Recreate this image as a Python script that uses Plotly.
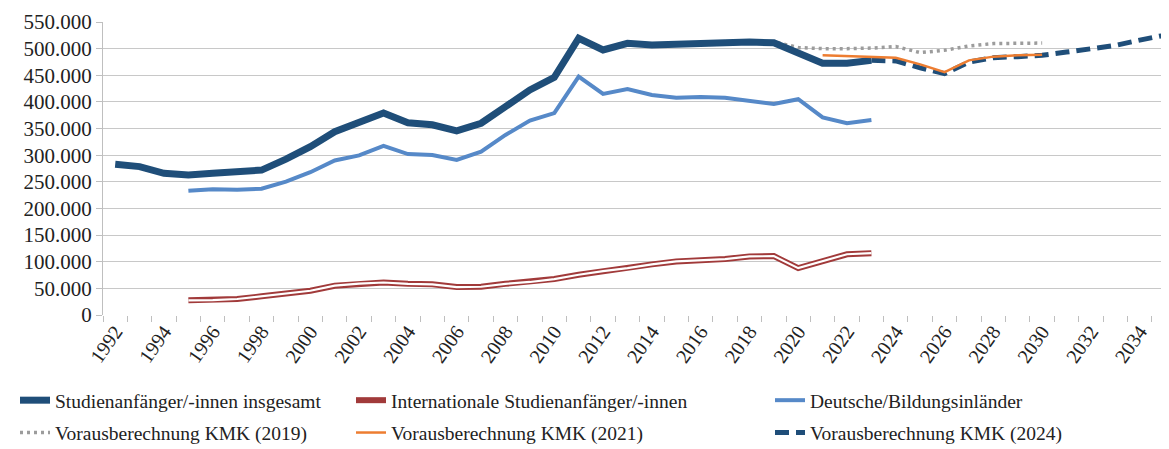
import plotly.graph_objects as go

years_total = list(range(1992, 2024))
total = [283000, 278500, 266000, 263000, 266000, 268000, 272000, 292500, 316000, 344000,
         360000, 379000, 361000, 357000, 345500, 360000, 391000, 422500, 446000, 519500,
         497500, 510000, 507000, 508000, 511000, 513000, 512500, 511000, 492500, 472500,
         472500, 478000]

years_sub = list(range(1995, 2024))
deutsche = [233000, 236000, 235000, 237000, 250500, 268000, 290000, 299500, 317500, 302000,
            300500, 291000, 306500, 338000, 365000, 379000, 447500, 415000, 424000, 413000,
            408000, 409000, 408000, 402500, 396000, 405000, 371000, 360000, 366000]
international = [27500, 28000, 30000, 35000, 40000, 45500, 55000, 59000, 61000, 58500,
                 57500, 52500, 53000, 58500, 62000, 67500, 75500, 82500, 88000, 95000,
                 100500, 102500, 105000, 110000, 110500, 88000, 100500, 114000, 116000]

years_kmk2019 = list(range(2018, 2031))
kmk2019 = [512500, 513000, 502000, 500000, 500000, 501000, 504000, 492500, 497000, 505000,
           509500, 510000, 510500]

years_kmk2021 = list(range(2021, 2031))
kmk2021 = [487500, 486000, 484000, 483000, 470500, 456000, 478000, 485000, 487500, 488500]

years_kmk2024 = list(range(2023, 2036))
kmk2024 = [478000, 477000, 464000, 453000, 475000, 483000, 485000, 487500, 493500, 500000,
           506000, 516000, 525000]

tick_years = list(range(1992, 2036, 2))

names = ["Studienanfänger/-innen insgesamt", "Internationale Studienanfänger/-innen",
         "Deutsche/Bildungsinländer", "Vorausberechnung KMK (2019)",
         "Vorausberechnung KMK (2021)", "Vorausberechnung KMK (2024)"]

DARK = "#1F4E79"
LIGHT = "#5689C8"
RED = "#A13A3A"
ORANGE = "#ED7D31"
GRAY = "#9C9C9C"

fig = go.Figure()

fig.add_trace(go.Scatter(x=years_kmk2019, y=kmk2019, mode="lines", name=names[3],
                         line=dict(color=GRAY, width=3.5, dash="3px,4px"),
                         legend="legend", legendgroup="g4", legendrank=2))
fig.add_trace(go.Scatter(x=years_total, y=total, mode="lines", name=names[0],
                         line=dict(color=DARK, width=7),
                         legend="legend", legendgroup="g1", legendrank=1))
fig.add_trace(go.Scatter(x=years_sub, y=deutsche, mode="lines", name=names[2],
                         line=dict(color=LIGHT, width=4),
                         legend="legend3", legendgroup="g3", legendrank=1))
fig.add_trace(go.Scatter(x=years_sub, y=international, mode="lines", name=names[1],
                         line=dict(color=RED, width=6),
                         legend="legend2", legendgroup="g2", legendrank=1))
fig.add_trace(go.Scatter(x=years_sub, y=international, mode="lines", name=names[1],
                         line=dict(color="white", width=2.2), showlegend=False,
                         legend="legend2", legendgroup="g2"))
fig.add_trace(go.Scatter(x=years_kmk2024, y=kmk2024, mode="lines", name=names[5],
                         line=dict(color=DARK, width=5, dash="14px,7px"),
                         legend="legend3", legendgroup="g6", legendrank=2))
fig.add_trace(go.Scatter(x=years_kmk2021, y=kmk2021, mode="lines", name=names[4],
                         line=dict(color=ORANGE, width=2.5),
                         legend="legend2", legendgroup="g5", legendrank=2))

FONT = "'Liberation Serif', 'Times New Roman', Times, serif"
W, H = 1161, 441
leg_common = dict(orientation="v", xref="container", yref="container",
                  yanchor="top", xanchor="left", y=1 - 373 / H,
                  font=dict(family=FONT, size=19.5, color="#222"),
                  bgcolor="rgba(0,0,0,0)", tracegroupgap=4, traceorder="grouped")

fig.update_layout(
    width=W, height=H,
    margin=dict(l=95, r=0, t=14, b=134, autoexpand=False),
    paper_bgcolor="white", plot_bgcolor="white",
    separators=",.",
    font=dict(family=FONT, size=20, color="#222"),
    legend=dict(x=7 / W, **leg_common),
    legend2=dict(x=343 / W, **leg_common),
    legend3=dict(x=762 / W, **leg_common),
    xaxis=dict(
        range=[1991.5, 2035.2],
        tickvals=tick_years, ticktext=[str(y) for y in tick_years],
        tickangle=-55, ticks="", showgrid=False, zeroline=False,
        showline=False, automargin=False,
        tickfont=dict(family=FONT, size=20, color="#222"),
        minor=dict(tick0=1991.5, dtick=1, ticks="outside", ticklen=6,
                   tickcolor="#BFBFBF", showgrid=False),
    ),
    yaxis=dict(
        range=[0, 550000], dtick=50000, tickformat=",d",
        showgrid=True, gridcolor="#C8C8C8", gridwidth=1,
        zeroline=False, showline=True, linecolor="#BFBFBF", linewidth=1,
        ticks="outside", ticklen=6, tickcolor="#BFBFBF", automargin=False,
        tickfont=dict(family=FONT, size=21, color="#222"),
    ),
)

fig.write_html("out.html")
